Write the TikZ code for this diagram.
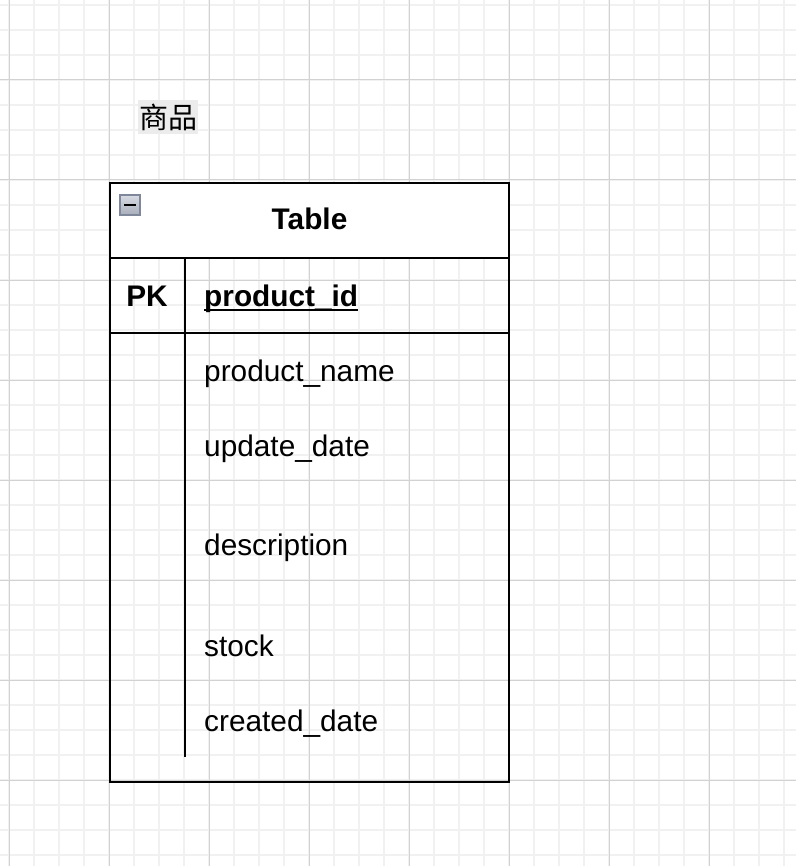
\documentclass[tikz,border=0pt]{standalone}
\usepackage{fontspec}
\setmainfont{Liberation Sans}
\newfontfamily\cjkfont{Noto Sans CJK SC}
\definecolor{minorgrid}{HTML}{F1F1F1}
\definecolor{majorgrid}{HTML}{D2D2D2}
\definecolor{lblbg}{HTML}{ECECEC}
\definecolor{iconedge}{HTML}{7F879A}
\definecolor{icontop}{HTML}{D8DBE2}
\definecolor{iconbot}{HTML}{A7ADBA}
\tikzset{
  gridminor/.style={draw=minorgrid, line width=1.6pt},
  gridmajor/.style={draw=majorgrid, line width=1pt},
  tblline/.style={draw=black, line width=2.5pt},
  fieldtxt/.style={inner sep=0pt, anchor=base west, font=\fontsize{29.8}{32}\selectfont},
  boldtxt/.style={inner sep=0pt, font=\fontsize{29.8}{32}\selectfont\bfseries},
}
\begin{document}
\begin{tikzpicture}[x=1pt,y=-1pt]
\useasboundingbox (0,0) rectangle (796,866);
\fill[white] (0,0) rectangle (796,866);
% grid
\foreach \gx in {9,34,...,784} \draw[gridminor] (\gx,0) -- (\gx,866);
\foreach \gy in {5,30,...,855} \draw[gridminor] (0,\gy) -- (796,\gy);
\foreach \gx in {9,109,...,709} \draw[gridmajor] (\gx,0) -- (\gx,866);
\foreach \gy in {80,180,...,780} \draw[gridmajor] (0,\gy) -- (796,\gy);
% label
\node[fill=lblbg, minimum width=60pt, minimum height=34pt, inner sep=0pt,
      font=\fontsize{29}{32}\selectfont\cjkfont] (lbl) at (168,117) {商品};
% table
\coordinate (tl) at (110,183);
\coordinate (br) at (509,782);
\coordinate (hr) at (509,258);
\coordinate (hl) at (110,258);
\coordinate (pl) at (110,333);
\coordinate (pr) at (509,333);
\coordinate (dt) at (185,258);
\coordinate (db) at (185,757);
\fill[white] (tl) rectangle (hr);
\draw[tblline] (tl) rectangle (br);
\draw[tblline] (hl) -- (hr);
\draw[tblline] (pl) -- (pr);
\draw[tblline] (dt) -- (db);
% collapse icon
\node[draw=iconedge, line width=1.6pt, top color=icontop, bottom color=iconbot,
      minimum width=20pt, minimum height=20pt, inner sep=0pt] (icon) at (130,205) {};
\draw[black, line width=2.8pt] ([xshift=-6pt]icon.center) -- ([xshift=6pt]icon.center);
% texts
\node[boldtxt, anchor=base] (title) at (309.5,230) {Table};
\node[boldtxt, anchor=base] (pk) at (147,306) {PK};
\node[boldtxt, anchor=base west] (pid) at (204,306) {product\_id};
\draw[black, line width=2pt] ([yshift=-4pt]pid.base west) -- ([yshift=-4pt]pid.base east);
\node[fieldtxt] (f1) at (204,381) {product\_name};
\node[fieldtxt] (f2) at (204,456) {update\_date};
\node[fieldtxt] (f3) at (204,555) {description};
\node[fieldtxt] (f4) at (204,656) {stock};
\node[fieldtxt] (f5) at (204,731) {created\_date};
\end{tikzpicture}
\end{document}
